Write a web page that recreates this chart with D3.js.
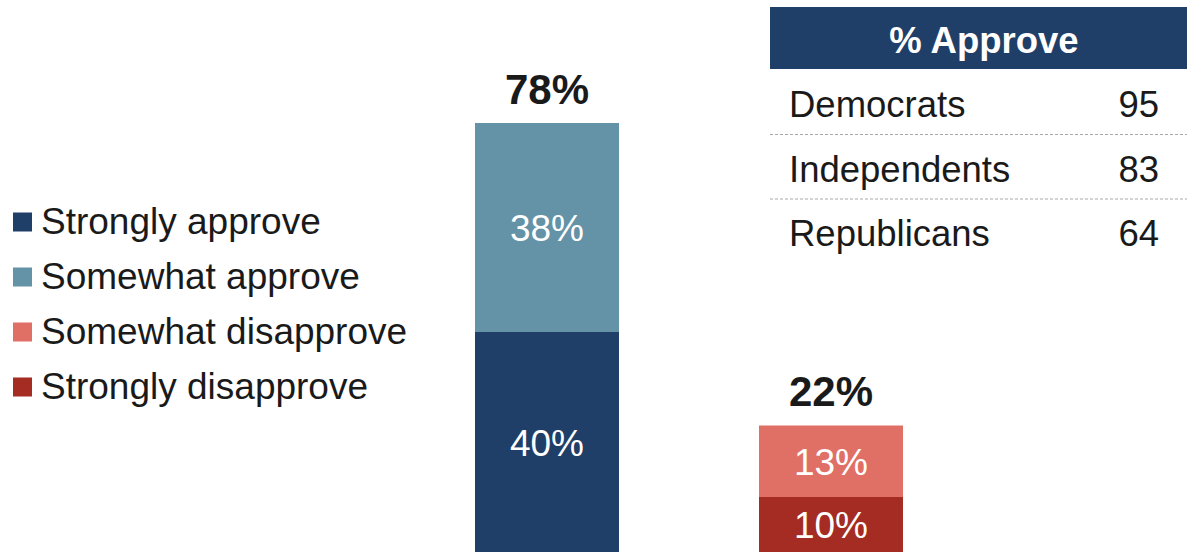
<!DOCTYPE html>
<html><head><meta charset="utf-8">
<script src="https://cdn.jsdelivr.net/npm/d3@7"></script>
<style>body{margin:0;background:#fff}svg{display:block;font-family:"Liberation Sans",Arial,sans-serif}</style>
</head><body><svg id="c" width="1187" height="552"></svg>
<script>
const categories = ["Approve", "Disapprove"];
const seriesNames = ["Strongly approve", "Somewhat approve", "Somewhat disapprove", "Strongly disapprove"];
const seriesColors = ["#1f3e68", "#6493a7", "#e06f66", "#a42c22"];
// stacked segments per category: [series index, value]
const approveSegments = [[0, 40], [1, 38]];
const disapproveSegments = [[3, 10], [2, 13]];
const totals = [78, 22];
const tableHeader = "% Approve";
const parties = ["Democrats", "Independents", "Republicans"];
const partyApprove = [95, 83, 64];

const svg = d3.select("#c");
const y = d3.scaleLinear().domain([0, 100]).range([552, 2]);
const x = d3.scaleBand().domain(categories).range([475, 903]).paddingInner(0.493).paddingOuter(0);

const stacks = [approveSegments, disapproveSegments];
categories.forEach((cat, ci) => {
  let base = 0;
  stacks[ci].forEach(([si, v]) => {
    const y0 = y(base), y1 = y(base + v);
    svg.append("rect").attr("x", x(cat)).attr("width", x.bandwidth())
      .attr("y", y1).attr("height", y0 - y1).attr("fill", seriesColors[si]);
    svg.append("text").attr("x", x(cat) + x.bandwidth() / 2).attr("y", (y0 + y1) / 2 + 13.5)
      .attr("text-anchor", "middle").attr("fill", "#fff")
      .attr("font-size", 37).text(v + "%");
    base += v;
  });
  svg.append("text").attr("x", x(cat) + x.bandwidth() / 2).attr("y", y(base) - 19.5)
    .attr("text-anchor", "middle").attr("fill", "#1a1a1a").attr("font-weight", "bold")
    .attr("font-size", 42).text(totals[ci] + "%");
});

// legend
seriesNames.forEach((n, i) => {
  const cy = 222 + i * 55;
  svg.append("rect").attr("x", 13).attr("y", cy - 9.5).attr("width", 19).attr("height", 19).attr("fill", seriesColors[i]);
  svg.append("text").attr("x", 41).attr("y", cy + 12).attr("font-size", 37).attr("fill", "#1a1a1a").text(n);
});

// table
svg.append("rect").attr("x", 770).attr("y", 7).attr("width", 417).attr("height", 62).attr("fill", "#1f3e68");
svg.append("text").attr("x", 984).attr("y", 53).attr("text-anchor", "middle")
  .attr("fill", "#fff").attr("font-weight", "bold").attr("font-size", 36.5).text(tableHeader);
parties.forEach((p, i) => {
  const base = 117 + i * 64.5;
  svg.append("text").attr("x", 789).attr("y", base).attr("font-size", 36.5).attr("fill", "#1a1a1a").text(p);
  svg.append("text").attr("x", 1159).attr("y", base).attr("text-anchor", "end").attr("font-size", 36.5).attr("fill", "#1a1a1a").text(partyApprove[i]);
  if (i < parties.length - 1) {
    svg.append("line").attr("x1", 770).attr("x2", 1187).attr("y1", base + 17.5).attr("y2", base + 17.5)
      .attr("stroke", "#aaa").attr("stroke-width", 1.2).attr("stroke-dasharray", "3,2");
  }
});
</script></body></html>
